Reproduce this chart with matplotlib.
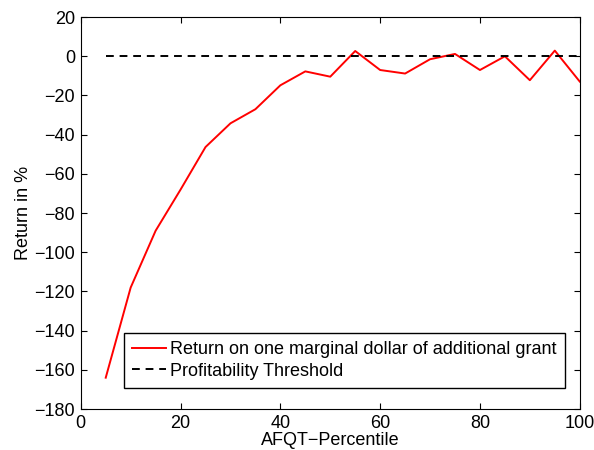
import numpy as np
import matplotlib
matplotlib.use("Agg")
import matplotlib.pyplot as plt

plt.rcParams['font.family'] = ['Liberation Sans', 'DejaVu Sans']

# data
percentile = [5, 10, 15, 20, 25, 30, 35, 40, 45, 50,
              55, 60, 65, 70, 75, 80, 85, 90, 95, 100]
ret = [-164, -118, -89, -68, -46.3, -34.2, -27, -14.8, -7.7, -10.4,
       2.7, -7, -8.8, -1.5, 1.2, -7, 0, -12.2, 2.9, -12.9]
threshold = [0] * len(percentile)

fig = plt.figure(figsize=(5.94, 4.5), dpi=100)
ax = fig.add_axes([0.136, 0.091, 0.840, 0.871])

ax.plot(percentile, ret, '-', color='red', lw=1.4,
        label='Return on one marginal dollar of additional grant')
ax.plot(percentile, threshold, '--', color='black', lw=1.4,
        dashes=(4, 3), label='Profitability Threshold')

ax.set_xlim(0, 100)
ax.set_ylim(-180, 20)
ax.set_xticks(np.arange(0, 101, 20))
ax.set_yticks(np.arange(-180, 21, 20))
ax.set_yticklabels([str(v).replace('-', '\u2212') for v in range(-180, 21, 20)])
ax.tick_params(direction='in', top=True, right=True, labelsize=13, length=4, pad=4)
ax.set_xlabel('AFQT\u2212Percentile', fontsize=13, labelpad=0)
ax.set_ylabel('Return in %', fontsize=13, labelpad=2)

leg = ax.legend(loc='lower left', bbox_to_anchor=(0.086, 0.054), fontsize=13,
                fancybox=False, edgecolor='black', framealpha=1,
                handlelength=1.9, handletextpad=0.22, borderpad=0.45,
                labelspacing=0.25, borderaxespad=0)
leg.get_frame().set_linewidth(1.0)

fig.savefig('out.png', dpi=100)
